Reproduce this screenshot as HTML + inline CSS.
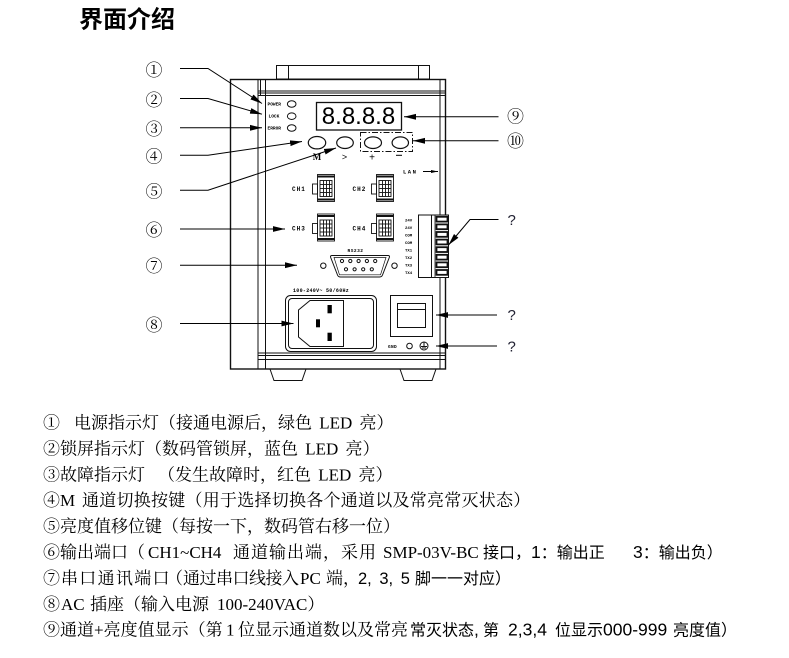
<!DOCTYPE html>
<html><head><meta charset="utf-8">
<style>
html,body{margin:0;padding:0;background:#fff;}
svg{display:block}
.t{font-family:"Liberation Serif","Noto Serif CJK SC",serif;font-size:17px;fill:#000;word-spacing:3px}
.s{font-family:"Liberation Sans","Noto Sans CJK SC",sans-serif;font-size:16px}
.sl{font-family:"Liberation Sans",sans-serif;font-size:17.5px}
.cn{font-family:"Noto Serif CJK SC","Noto Sans CJK SC",serif;font-size:17px;fill:#000}
.tiny{font-family:"Liberation Mono",monospace;font-weight:bold;fill:#000}
.q{font-family:"Liberation Sans",sans-serif;font-size:15px;fill:#223}
</style></head><body>
<svg width="789" height="658" viewBox="0 0 789 658" xmlns="http://www.w3.org/2000/svg">
<defs>
<marker id="ah" markerWidth="13" markerHeight="7" refX="12" refY="3.5" orient="auto" markerUnits="userSpaceOnUse"><path d="M0,0.6 L12,3.5 L0,6.4 z" fill="#000"/></marker>
<marker id="ahs" markerWidth="8" markerHeight="4" refX="7" refY="2" orient="auto" markerUnits="userSpaceOnUse"><path d="M0,0.5 L7,2 L0,3.5 z" fill="#000"/></marker>
</defs>

<!-- Title -->
<text x="79" y="27.5" style="font-family:'Noto Sans CJK SC',sans-serif;font-size:24px;font-weight:bold;fill:#000">界面介绍</text>

<!-- Device body -->
<g stroke="#111" stroke-width="1" fill="none">
  <rect x="276.5" y="65.5" width="153" height="13.5"/>
  <line x1="288.5" y1="65.5" x2="288.5" y2="79"/>
  <line x1="418.5" y1="65.5" x2="418.5" y2="79"/>
  <rect x="230.5" y="79.5" width="215" height="289.5" stroke-width="1.4"/>
  <line x1="258" y1="79.5" x2="258" y2="369"/>
  <line x1="260.5" y1="79.5" x2="260.5" y2="95"/>
  <line x1="265.5" y1="79.5" x2="265.5" y2="369"/>
  <line x1="440" y1="79.5" x2="440" y2="369"/>
  <line x1="258" y1="91" x2="445.5" y2="91"/>
  <line x1="258" y1="93" x2="445.5" y2="93"/>
  <line x1="258" y1="95.5" x2="445.5" y2="95.5"/>
  <line x1="258" y1="353" x2="445.5" y2="353"/>
  <line x1="258" y1="355.5" x2="445.5" y2="355.5"/>
  <line x1="258" y1="359.5" x2="445.5" y2="359.5"/>
  <polygon points="270,369 306,369 302,380.5 274,380.5"/>
  <polygon points="400,369 436,369 432,380.5 404,380.5"/>

  <!-- LEDs -->
  <ellipse cx="291.7" cy="104" rx="4.3" ry="3.3"/>
  <ellipse cx="291.7" cy="116.2" rx="4.3" ry="3.3"/>
  <ellipse cx="291.7" cy="128" rx="4.3" ry="3.3"/>

  <!-- display -->
  <rect x="316.5" y="102.5" width="85" height="27.5" stroke-width="1.3"/>

  <!-- buttons -->
  <ellipse cx="317" cy="142.7" rx="8.7" ry="6.2" stroke-width="1.2"/>
  <ellipse cx="345" cy="142.7" rx="8.3" ry="5.8" stroke-width="1.2"/>
  <ellipse cx="373" cy="142.7" rx="8.5" ry="5.8" stroke-width="1.2"/>
  <ellipse cx="400.3" cy="142.7" rx="8.2" ry="5.8" stroke-width="1.2"/>
  <rect x="360.5" y="132.5" width="52" height="19" stroke-dasharray="6 2 1.5 2"/>
</g>

<!-- LED labels -->
<text class="tiny" x="267.5" y="105.5" style="font-size:4.5px">POWER</text>
<text class="tiny" x="268.5" y="117.5" style="font-size:4.5px">LOCK</text>
<text class="tiny" x="267.5" y="129.5" style="font-size:4.5px">ERROR</text>

<!-- display digits -->
<text x="358.5" y="124" text-anchor="middle" style="font-family:'Liberation Sans',sans-serif;font-size:24px;fill:#000">8.8.8.8</text>

<!-- button labels -->
<text x="317" y="160" text-anchor="middle" style="font-family:'Liberation Serif',serif;font-size:9px;font-weight:bold">M</text>
<text x="344.5" y="160" text-anchor="middle" style="font-family:'Liberation Sans',sans-serif;font-size:9px">&gt;</text>
<text x="372" y="160.5" text-anchor="middle" style="font-family:'Liberation Sans',sans-serif;font-size:10px">+</text>
<line x1="396" y1="155.3" x2="402" y2="155.3" stroke="#000" stroke-width="1"/>

<!-- LAN -->
<text class="tiny" x="403" y="173.5" style="font-size:5.5px;letter-spacing:1.5px">LAN</text>
<line x1="423" y1="171.5" x2="438" y2="171.5" stroke="#000" stroke-width="1" marker-end="url(#ahs)"/>

<!-- CH connectors -->
<g id="conn" stroke="#111" fill="none" stroke-width="0.9">
  <rect x="317.5" y="174.5" width="17" height="27"/>
  <line x1="317.5" y1="176.5" x2="334.5" y2="176.5" stroke-width="2"/>
  <line x1="317.5" y1="199.5" x2="334.5" y2="199.5" stroke-width="2"/>
  <rect x="312.5" y="184" width="5" height="10"/>
  <rect x="320" y="180.5" width="12" height="16"/>
  <line x1="323.5" y1="180.5" x2="323.5" y2="196.5"/>
  <line x1="326.5" y1="180.5" x2="326.5" y2="196.5"/>
  <line x1="329.5" y1="180.5" x2="329.5" y2="196.5"/>
  <line x1="320" y1="184.5" x2="332" y2="184.5"/>
  <line x1="320" y1="188.5" x2="332" y2="188.5"/>
  <line x1="320" y1="192.5" x2="332" y2="192.5"/>
</g>
<use href="#conn" transform="translate(59,0)"/>
<use href="#conn" transform="translate(0,39.5)"/>
<use href="#conn" transform="translate(59,39.5)"/>
<text class="tiny" x="292" y="191" style="font-size:6px;letter-spacing:1px">CH1</text>
<text class="tiny" x="352.5" y="191" style="font-size:6px;letter-spacing:1px">CH2</text>
<text class="tiny" x="292" y="230.5" style="font-size:6px;letter-spacing:1px">CH3</text>
<text class="tiny" x="352.5" y="230.5" style="font-size:6px;letter-spacing:1px">CH4</text>

<!-- Terminal block -->
<g stroke="#111" fill="#fff">
  <rect x="418.5" y="215" width="30" height="62.5" stroke-width="1"/>
  <line x1="431.5" y1="215" x2="431.5" y2="277.5" stroke-width="1"/>
  <line x1="435" y1="215" x2="435" y2="277.5" stroke-width="0.8"/>
  <rect x="436.5" y="216.8" width="11" height="4.8" stroke-width="1.8"/>
  <rect x="436.5" y="224.4" width="11" height="4.8" stroke-width="1.8"/>
  <rect x="436.5" y="232" width="11" height="4.8" stroke-width="1.8"/>
  <rect x="436.5" y="239.6" width="11" height="4.8" stroke-width="1.8"/>
  <rect x="436.5" y="247.2" width="11" height="4.8" stroke-width="1.8"/>
  <rect x="436.5" y="254.8" width="11" height="4.8" stroke-width="1.8"/>
  <rect x="436.5" y="262.4" width="11" height="4.8" stroke-width="1.8"/>
  <rect x="436.5" y="270" width="11" height="4.8" stroke-width="1.8"/>
</g>
<g class="tiny" style="font-size:4px">
  <text x="405" y="221.5">24V</text>
  <text x="405" y="229">24V</text>
  <text x="405" y="236.5">COM</text>
  <text x="405" y="244">COM</text>
  <text x="405" y="251.5">TX1</text>
  <text x="405" y="259">TX2</text>
  <text x="405" y="266.5">TX3</text>
  <text x="405" y="274">TX4</text>
</g>

<!-- RS232 -->
<text class="tiny" x="347.5" y="252" style="font-size:4.5px;letter-spacing:0.5px">RS232</text>
<g stroke="#111" fill="none" stroke-width="1">
  <path d="M332,255.5 L388,255.5 Q390,255.5 389.3,257.5 L382.5,275 Q381.8,277 379.5,277 L340.5,277 Q338.2,277 337.5,275 L330.7,257.5 Q330,255.5 332,255.5 Z"/>
  <path d="M334,257.5 L386,257.5 L380.5,274.8 L339.5,274.8 Z" stroke-width="0.7"/>
  <circle cx="323.3" cy="265.7" r="2.7"/>
  <circle cx="394.5" cy="265.7" r="2.7"/>
  <circle cx="342" cy="261" r="1.6"/><circle cx="350.3" cy="261" r="1.6"/><circle cx="358.6" cy="261" r="1.6"/><circle cx="366.9" cy="261" r="1.6"/><circle cx="375.2" cy="261" r="1.6"/>
  <circle cx="346" cy="269.3" r="1.6"/><circle cx="354.6" cy="269.3" r="1.6"/><circle cx="363.2" cy="269.3" r="1.6"/><circle cx="371.8" cy="269.3" r="1.6"/>
</g>

<!-- AC inlet -->
<text class="tiny" x="293" y="292" style="font-size:5px;letter-spacing:0.3px">100-240V~ 50/60Hz</text>
<g stroke="#111" fill="none" stroke-width="1">
  <rect x="285.5" y="295.5" width="91" height="56" rx="5"/>
  <rect x="288.5" y="298.5" width="85" height="50" rx="3.5"/>
  <polygon points="310,300.5 343.5,300.5 343.5,346.5 310,346.5 298.5,337 298.5,310"/>
  <rect x="390.5" y="295.5" width="42" height="41"/>
  <rect x="397.5" y="303.5" width="28" height="24"/>
  <line x1="397.5" y1="309.5" x2="425.5" y2="309.5"/>
  <circle cx="409.5" cy="346" r="2.8"/>
  <circle cx="424" cy="346" r="4"/>
  <line x1="424" y1="342.5" x2="424" y2="346.5"/>
  <line x1="421" y1="346.5" x2="427" y2="346.5"/>
  <line x1="422" y1="348" x2="426" y2="348"/>
</g>
<rect x="327.5" y="305" width="4.3" height="8.3" fill="#000"/>
<rect x="327.5" y="332.7" width="4.3" height="8.3" fill="#000"/>
<rect x="316" y="319.3" width="4" height="8" fill="#000"/>
<text class="tiny" x="388" y="347.8" style="font-size:4.5px;letter-spacing:0.3px">GND</text>

<!-- Callout connectors -->
<g stroke="#000" stroke-width="1" fill="none">
  <polyline points="180,68.5 208,68.5 262,103.5" marker-end="url(#ah)"/>
  <polyline points="180,98.5 208,98.5 262,114.2" marker-end="url(#ah)"/>
  <line x1="180" y1="127.8" x2="262" y2="127.8" marker-end="url(#ah)"/>
  <polyline points="180,155.2 208,155.2 302,141.5" marker-end="url(#ah)"/>
  <polyline points="180,190.2 208,190.2 336,148" marker-end="url(#ah)"/>
  <line x1="180" y1="229" x2="285" y2="229" marker-end="url(#ah)"/>
  <line x1="180" y1="265.2" x2="297" y2="265.2" marker-end="url(#ah)"/>
  <line x1="180" y1="323.5" x2="293.5" y2="323.5" marker-end="url(#ah)"/>
  <line x1="498.5" y1="116.8" x2="404" y2="116.8" marker-end="url(#ah)"/>
  <line x1="498.5" y1="140.8" x2="413" y2="140.8" marker-end="url(#ah)"/>
  <polyline points="498.5,219.5 470,219.5 448.5,245" marker-end="url(#ah)"/>
  <line x1="497" y1="315" x2="436" y2="315" marker-end="url(#ah)"/>
  <line x1="497" y1="346" x2="436" y2="346" marker-end="url(#ah)"/>
</g>

<!-- Callout labels -->
<text class="cn" x="154" y="76" text-anchor="middle">①</text>
<text class="cn" x="154" y="106" text-anchor="middle">②</text>
<text class="cn" x="154" y="135" text-anchor="middle">③</text>
<text class="cn" x="154" y="162.7" text-anchor="middle">④</text>
<text class="cn" x="154" y="197.7" text-anchor="middle">⑤</text>
<text class="cn" x="154" y="236" text-anchor="middle">⑥</text>
<text class="cn" x="154" y="272" text-anchor="middle">⑦</text>
<text class="cn" x="154" y="331" text-anchor="middle">⑧</text>
<text class="cn" x="515.5" y="122.7" text-anchor="middle">⑨</text>
<text class="cn" x="515.5" y="147" text-anchor="middle">⑩</text>
<text class="q" x="511.7" y="225" text-anchor="middle">?</text>
<text class="q" x="511.7" y="320" text-anchor="middle">?</text>
<text class="q" x="511.7" y="351.5" text-anchor="middle">?</text>

<!-- Description lines -->
<text class="t" y="428.5" xml:space="preserve"><tspan x="43">①</tspan><tspan x="74">电源指示灯（接通电源后，绿色 LED 亮）</tspan></text>
<text class="t" y="454.4" xml:space="preserve"><tspan x="43">②</tspan><tspan x="60">锁屏指示灯（数码管锁屏，蓝色 LED 亮）</tspan></text>
<text class="t" y="480.3" xml:space="preserve"><tspan x="43">③</tspan><tspan x="60">故障指示灯</tspan><tspan x="158">（发生故障时，红色 LED 亮）</tspan></text>
<text class="t" y="506.2" xml:space="preserve"><tspan x="43">④</tspan><tspan x="60">M</tspan><tspan x="82" style="letter-spacing:0.25px">通道切换按键（用于选择切换各个通道以及常亮常灭状态）</tspan></text>
<text class="t" y="532.1" xml:space="preserve"><tspan x="43">⑤</tspan><tspan x="60">亮度值移位键（每按一下，数码管右移一位）</tspan></text>
<text class="t" y="558" xml:space="preserve"><tspan x="43">⑥</tspan><tspan x="60">输出端口（</tspan><tspan x="148">CH1~CH4</tspan><tspan x="233" style="letter-spacing:1px">通道输出端，采用</tspan><tspan x="383">SMP-03V-BC</tspan><tspan x="483" class="s">接口，<tspan class="sl">1</tspan>：输出正</tspan><tspan x="633" class="s"><tspan class="sl">3</tspan>：输出负）</tspan></text>
<text class="t" y="583.9" xml:space="preserve"><tspan x="43">⑦</tspan><tspan x="61" style="letter-spacing:1.3px">串口通讯端口</tspan><tspan x="166">（</tspan><tspan x="183" style="letter-spacing:-0.5px">通过串口线接入</tspan><tspan x="300">PC</tspan><tspan x="326">端，</tspan><tspan x="358" class="sl" style="font-size:16.5px">2, 3, 5</tspan><tspan x="415" class="s">脚一一对应）</tspan></text>
<text class="t" y="609.8" xml:space="preserve"><tspan x="43">⑧</tspan><tspan x="61">AC</tspan><tspan x="90">插座（输入电源</tspan><tspan x="217">100-240VAC）</tspan></text>
<text class="t" y="635.7" xml:space="preserve"><tspan x="43">⑨</tspan><tspan x="60">通道+亮度值显示（第</tspan><tspan x="226">1</tspan><tspan x="238">位显示通道数以及常亮</tspan><tspan x="410" class="s">常灭状态<tspan class="sl">,</tspan></tspan><tspan x="483" class="s">第</tspan><tspan x="508" class="sl">2,3,4</tspan><tspan x="555" class="s">位显示</tspan><tspan x="603" class="sl">000-999</tspan><tspan x="673" class="s">亮度值）</tspan></text>
</svg>
</body></html>
